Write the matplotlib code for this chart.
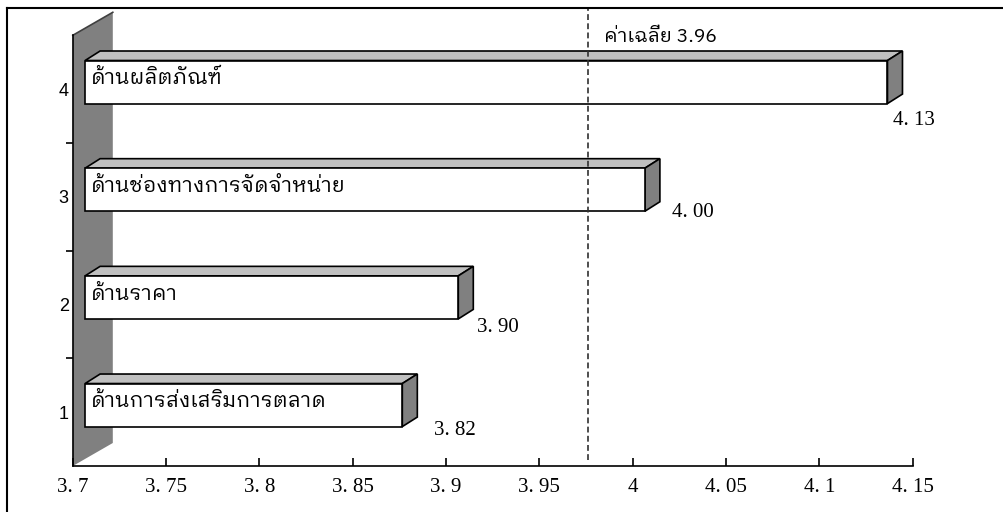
import matplotlib
matplotlib.use("Agg")
import matplotlib.pyplot as plt
from matplotlib.patches import Polygon
from matplotlib.transforms import offset_copy

categories = ["ด้านการส่งเสริมการตลาด", "ด้านราคา", "ด้านช่องทางการจัดจำหน่าย", "ด้านผลิตภัณฑ์"]
positions = [1, 2, 3, 4]
values = [3.87, 3.90, 4.00, 4.13]
value_labels = ["3. 82", "3. 90", "4. 00", "4. 13"]
xticks = [3.7, 3.75, 3.8, 3.85, 3.9, 3.95, 4.0, 4.05, 4.1, 4.15]
xtick_labels = ["3. 7", "3. 75", "3. 8", "3. 85", "3. 9", "3. 95", "4", "4. 05", "4. 1", "4. 15"]
mean_x = 3.976
mean_label = "ค่าเฉลี่ย 3.96"

thai_family = ["IBM Plex Sans Thai Looped", "DejaVu Sans"]
num_family = "Liberation Serif"

W, H = 1004, 512
fig = plt.figure(figsize=(W / 100, H / 100), dpi=100)
ax = fig.add_axes([72.8 / W, 46 / H, 839.7 / W, 430.7 / H])
ax.set_xlim(3.7, 4.15)
ax.set_ylim(0.5, 4.5)

# pixel -> data scales
px_x = 0.45 / 839.7
px_y = 4.0 / 430.7

# back wall
wdx, wdy = 40 * px_x, 23 * px_y
wall = Polygon([(3.7, 0.5), (3.7 + wdx, 0.5 + wdy), (3.7 + wdx, 4.5 + wdy), (3.7, 4.5)],
               closed=True, facecolor="#808080", edgecolor="none", clip_on=False, zorder=1)
ax.add_patch(wall)
ax.plot([3.7, 3.7 + wdx], [4.5, 4.5 + wdy], color="#404040", lw=1.2, clip_on=False, zorder=2)
ax.plot([3.7, 3.7], [0.5, 4.5], color="black", lw=1.2, clip_on=False, zorder=2)

# 3d bars
ox, oy = 12.3 * px_x, 7.1 * px_y
bdx, bdy = 15 * px_x, 9.5 * px_y
half = 0.2
for p, v, lab in zip(positions, values, categories):
    x0, x1 = 3.7 + ox, v + ox
    y0, y1 = p - half + oy, p + half + oy
    top = Polygon([(x0, y1), (x0 + bdx, y1 + bdy), (x1 + bdx, y1 + bdy), (x1, y1)],
                  facecolor="#c0c0c0", edgecolor="black", lw=1.2, clip_on=False, zorder=3)
    side = Polygon([(x1, y0), (x1 + bdx, y0 + bdy), (x1 + bdx, y1 + bdy), (x1, y1)],
                   facecolor="#808080", edgecolor="black", lw=1.2, clip_on=False, zorder=3)
    front = Polygon([(x0, y0), (x1, y0), (x1, y1), (x0, y1)],
                    facecolor="white", edgecolor="black", lw=1.2, clip_on=False, zorder=4)
    for patch in (top, side, front):
        ax.add_patch(patch)
    ax.text(x0 + 6 * px_x, p + oy + 0.03, lab, family=thai_family, fontsize=15,
            ha="left", va="center", zorder=5)

# value labels, placed by hand in the original
label_dx = [32, 19, 27, 6]
label_dy = [-4, -9, -1, -17]
for p, v, t, dx, dy in zip(positions, values, value_labels, label_dx, label_dy):
    ax.text(v + ox + dx * px_x, p - half + oy + dy * px_y, t, family=num_family,
            fontsize=15, ha="left", va="center", zorder=5)

# mean line
ax.plot([mean_x, mean_x], [0.56, 4.5 + 27 * px_y], color="#303030", lw=1.2,
        ls=(0, (3.5, 2)), clip_on=False, zorder=6)
ax.text(mean_x + 16 * px_x, 4.5 - 2 * px_y, mean_label, family=thai_family, fontsize=14,
        ha="left", va="center", zorder=6)

# axes styling
for s in ("top", "right", "left"):
    ax.spines[s].set_visible(False)
ax.spines["bottom"].set_linewidth(1.2)
ax.set_xticks(xticks)
ax.set_xticklabels(xtick_labels, family=num_family, fontsize=15)
ax.tick_params(axis="x", direction="in", length=6, width=1.2, pad=9)
ax.set_yticks(positions)
ax.set_yticklabels([str(p) for p in positions], family="Liberation Sans", fontsize=13)
for t in ax.get_yticklabels():
    t.set_transform(offset_copy(t.get_transform(), fig=fig, x=0, y=-4, units="dots"))
ax.set_yticks([1.5, 2.5, 3.5], minor=True)
ax.tick_params(axis="y", which="major", length=0, pad=3)
ax.tick_params(axis="y", which="minor", length=5, width=1.2, direction="out")

# outer frame (top and left edges)
fig.add_artist(plt.Line2D([7 / W, 1], [1 - 8 / H, 1 - 8 / H], color="black", lw=1.5))
fig.add_artist(plt.Line2D([7 / W, 7 / W], [0, 1 - 8 / H], color="black", lw=1.5))

fig.savefig("out.png", dpi=100)
